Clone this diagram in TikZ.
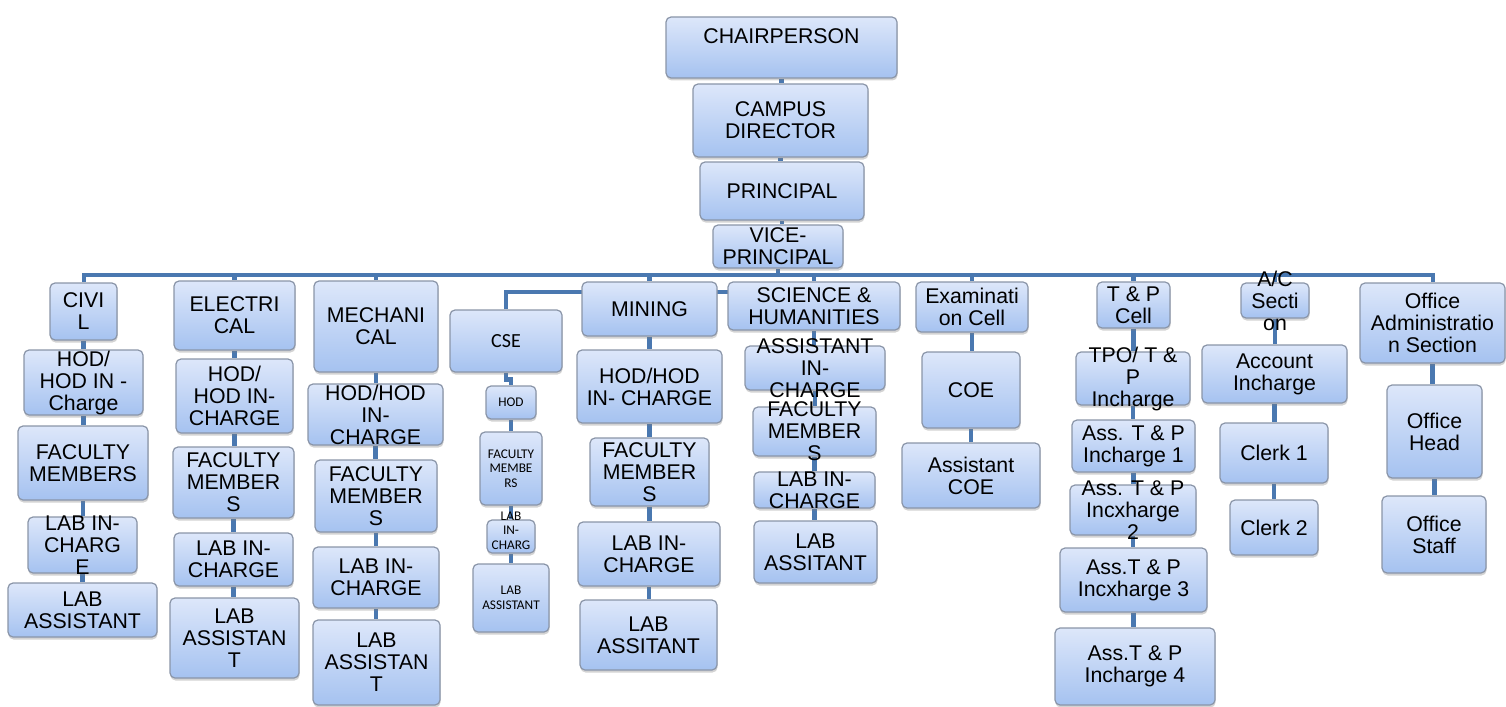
\documentclass[tikz,border=0pt]{standalone}
\usepackage{fontspec}
\setmainfont{Liberation Sans}
\newfontfamily\carlito{Carlito}
\usetikzlibrary{fit,shadows,backgrounds,calc}
\definecolor{boxtop}{HTML}{DDE7FA}
\definecolor{boxbot}{HTML}{A5C2F0}
\definecolor{boxedge}{HTML}{8A95A8}
\definecolor{lnk}{HTML}{4A78B0}
\tikzset{
 box/.style={draw=boxedge, line width=1.2bp, rounded corners=5bp, top color=boxtop, bottom color=boxbot, inner sep=0pt, drop shadow={shadow xshift=0.5bp, shadow yshift=-2.5bp, opacity=0.35}},
 txt/.style={align=center, inner sep=0pt, font=\fontsize{21.3bp}{22bp}\selectfont},
 small/.style={font=\carlito\fontsize{13.3bp}{14.5bp}\selectfont},
 conn/.style={draw=lnk, line width=4.5bp},
}
\newcommand\ob[4][]{\node[box,fit={#3}] (#2) {}; \node[txt,#1] (#2-t) at (#2.center) {#4};}
\begin{document}
\begin{tikzpicture}[x=1bp,y=-1bp]
\useasboundingbox (0,0) rectangle (1506,707);
% top
\ob[yshift=11bp]{chair}{(666,17) (897,78)}{CHAIRPERSON}
\ob{camp}{(693,84) (868,157)}{CAMPUS\\DIRECTOR}
\ob{prin}{(700,162) (864,220)}{PRINCIPAL}
\ob{vice}{(713,225) (843,268)}{VICE-\\PRINCIPAL}
% civil
\ob{civ}{(50,283) (117,340)}{CIVI\\L}
\ob{civ1}{(24,350) (143,415)}{HOD/\\HOD IN -\\Charge}
\ob{civ2}{(18,426) (148,500)}{FACULTY\\MEMBERS}
\ob{civ3}{(28,517) (137,573)}{LAB IN-\\CHARG\\E}
\ob{civ4}{(8,583) (157,637)}{LAB\\ASSISTANT}
% electrical
\ob{ele}{(174,281) (295,350)}{ELECTRI\\CAL}
\ob{ele1}{(176,359) (293,433)}{HOD/\\HOD IN-\\CHARGE}
\ob{ele2}{(173,447) (294,518)}{FACULTY\\MEMBER\\S}
\ob{ele3}{(174,533) (293,586)}{LAB IN-\\CHARGE}
\ob{ele4}{(170,598) (299,678)}{LAB\\ASSISTAN\\T}
% mechanical
\ob{mec}{(314,281) (438,372)}{MECHANI\\CAL}
\ob{mec1}{(308,384) (443,445)}{HOD/HOD\\IN-\\CHARGE}
\ob{mec2}{(315,460) (437,532)}{FACULTY\\MEMBER\\S}
\ob{mec3}{(313,547) (439,608)}{LAB IN-\\CHARGE}
\ob{mec4}{(313,620) (440,705)}{LAB\\ASSISTAN\\T}
% cse
\ob[font=\carlito\fontsize{20bp}{22bp}\selectfont]{cse}{(450,310) (562,372)}{CSE}
\ob[small]{cse1}{(486,386) (536,419)}{HOD}
\ob[small]{cse2}{(480,432) (542,505)}{FACULTY\\MEMBE\\RS}
\ob[small,yshift=6bp]{cse3}{(487,520) (535,553)}{LAB\\IN-\\CHARG}
\ob[small]{cse4}{(473,564) (549,632)}{LAB\\ASSISTANT}
% mining
\ob{min}{(582,282) (717,336)}{MINING}
\ob{min1}{(577,350) (722,423)}{HOD/HOD\\IN- CHARGE}
\ob{min2}{(590,438) (709,506)}{FACULTY\\MEMBER\\S}
\ob{min3}{(578,522) (720,586)}{LAB IN-\\CHARGE}
\ob{min4}{(580,600) (717,670)}{LAB\\ASSITANT}
% science
\ob{sci}{(728,282) (900,330)}{SCIENCE \&\\HUMANITIES}
\ob{sci1}{(745,346) (885,390)}{ASSISTANT\\IN-\\CHARGE}
\ob{sci2}{(753,407) (876,456)}{FACULTY\\MEMBER\\S}
\ob{sci3}{(754,472) (875,508)}{LAB IN-\\CHARGE}
\ob{sci4}{(754,521) (877,583)}{LAB\\ASSITANT}
% examination
\ob{exa}{(916,282) (1028,332)}{Examinati\\on Cell}
\ob{exa1}{(922,352) (1020,428)}{COE}
\ob{exa2}{(902,443) (1040,508)}{Assistant\\COE}
% T&P
\ob{tp}{(1097,282) (1170,328)}{T \& P\\Cell}
\ob{tp1}{(1076,352) (1190,405)}{TPO/ T \&\\P\\Incharge}
\ob{tp2}{(1072,420) (1195,472)}{Ass. T \& P\\Incharge 1}
\ob{tp3}{(1070,485) (1196,535)}{Ass. T \& P\\Incxharge\\2}
\ob{tp4}{(1060,548) (1207,612)}{Ass.T \& P\\Incxharge 3}
\ob{tp5}{(1055,628) (1215,705)}{Ass.T \& P\\Incharge 4}
% A/C
\ob{ac}{(1241,283) (1309,318)}{A/C\\Secti\\on}
\ob{ac1}{(1202,345) (1347,403)}{Account\\Incharge}
\ob{ac2}{(1220,423) (1328,483)}{Clerk 1}
\ob{ac3}{(1230,500) (1318,555)}{Clerk 2}
% office
\ob{off}{(1360,283) (1505,363)}{Office\\Administratio\\n Section}
\ob{off1}{(1387,385) (1482,478)}{Office\\Head}
\ob{off2}{(1382,496) (1486,573)}{Office\\Staff}
% connectors
\coordinate (bar) at (782,275);
\coordinate (csej) at (740,292);
\begin{scope}[on background layer]
\draw[conn] (chair.south) -- (chair.south |- camp.north);
\draw[conn] (camp.south) -- (camp.south |- prin.north);
\draw[conn] (prin.south) -- (prin.south |- vice.north);
\draw[conn] (vice.south) -- (vice.south |- bar);
\draw[conn,line width=4bp] (civ.north) |- (bar) -| (off.north);
\foreach \n in {ele,mec,min,sci,exa,tp,ac}
  \draw[conn] (\n.north) -- (\n.north |- bar);
\draw[conn,line width=4bp] (cse.north) |- (csej);
\draw[conn] (cse.south) -- ++(0,7) -| (cse1.north);
\foreach \a/\b in {civ/civ1,civ1/civ2,civ2/civ3,civ3/civ4,
  ele/ele1,ele1/ele2,ele2/ele3,ele3/ele4,
  mec/mec1,mec1/mec2,mec2/mec3,mec3/mec4,
  cse1/cse2,cse2/cse3,cse3/cse4,
  min/min1,min1/min2,min2/min3,min3/min4,
  sci/sci1,sci1/sci2,sci2/sci3,sci3/sci4,
  exa/exa1,exa1/exa2,
  tp/tp1,tp1/tp2,tp2/tp3,tp3/tp4,tp4/tp5,
  ac/ac1,ac1/ac2,ac2/ac3,
  off/off1,off1/off2}
  \draw[conn] (\a.south) -- (\a.south |- \b.north);
\end{scope}
\end{tikzpicture}
\end{document}
